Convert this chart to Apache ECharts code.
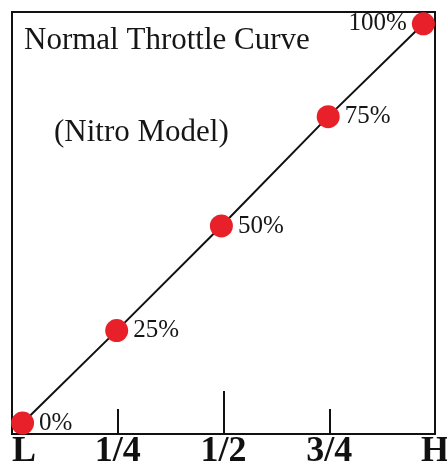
<!DOCTYPE html>
<html>
<head>
<meta charset="utf-8">
<script src="https://cdn.jsdelivr.net/npm/echarts@6/dist/echarts.min.js"></script>
<style>
html,body{margin:0;padding:0;background:#fff;}
#c{width:447px;height:470px;}
</style>
</head>
<body>
<div id="c"></div>
<script>
// stick position axis: 0 = L ... 4 = H
const stickLabels = ['L', '1/4', '1/2', '3/4', 'H'];
const stickTicks = [0, 1, 2, 3, 4];
// plotted point positions (end points inset to fit the box)
const pointStick = [0.1, 0.99, 1.98, 2.99, 3.89];
const pointThrottle = [2.6, 24.5, 49.3, 75.2, 97.2];
const pointLabels = ['0%', '25%', '50%', '75%', '100%'];
const titleText = 'Normal Throttle Curve';
const subtitleText = '(Nitro Model)';

const serif = '"Liberation Serif", "DejaVu Serif", serif';
const chart = echarts.init(document.getElementById('c'), null, {renderer: 'canvas'});
const data = pointStick.map((x, i) => ({
  value: [x, pointThrottle[i]],
  label: {
    formatter: pointLabels[i],
    position: i === pointStick.length - 1 ? 'left' : 'right'
  }
}));
chart.setOption({
  animation: false,
  backgroundColor: '#fff',
  title: [
    {text: titleText, left: 19, top: 20,
     textStyle: {fontFamily: serif, fontSize: 31, fontWeight: 'normal', color: '#161616'}},
    {text: subtitleText, left: 49, top: 112,
     textStyle: {fontFamily: serif, fontSize: 31, fontWeight: 'normal', color: '#161616'}}
  ],
  grid: {left: 12, right: 12, top: 12, bottom: 36, show: true,
         outerBoundsMode: 'none', containLabel: false,
         borderColor: '#111', borderWidth: 2, backgroundColor: 'transparent'},
  xAxis: [
    {type: 'value', min: 0, max: 4, position: 'bottom',
     splitLine: {show: false}, axisLine: {show: false},
     axisTick: {show: true, inside: true, length: 25, customValues: [stickTicks[1], stickTicks[3]],
                lineStyle: {color: '#111', width: 2}},
     axisLabel: {show: true, customValues: stickTicks, margin: 0,
                 alignMinLabel: 'left',
                 formatter: v => stickLabels[Math.round(v)],
                 fontFamily: serif, fontSize: 36, fontWeight: 'bold', color: '#111'}},
    {type: 'value', min: 0, max: 4, position: 'bottom',
     splitLine: {show: false}, axisLine: {show: false},
     axisTick: {show: true, inside: true, length: 43, customValues: [stickTicks[2]],
                lineStyle: {color: '#111', width: 2}},
     axisLabel: {show: false}}
  ],
  yAxis: {type: 'value', min: 0, max: 100, show: false, splitLine: {show: false}},
  series: [{
    type: 'line',
    xAxisIndex: 0,
    data: data,
    symbol: 'circle',
    symbolSize: 23,
    lineStyle: {color: '#111', width: 2},
    itemStyle: {color: '#e8202a'},
    label: {show: true, distance: 5, fontFamily: serif, fontSize: 25, color: '#161616'},
    z: 5
  }]
});
</script>
</body>
</html>
